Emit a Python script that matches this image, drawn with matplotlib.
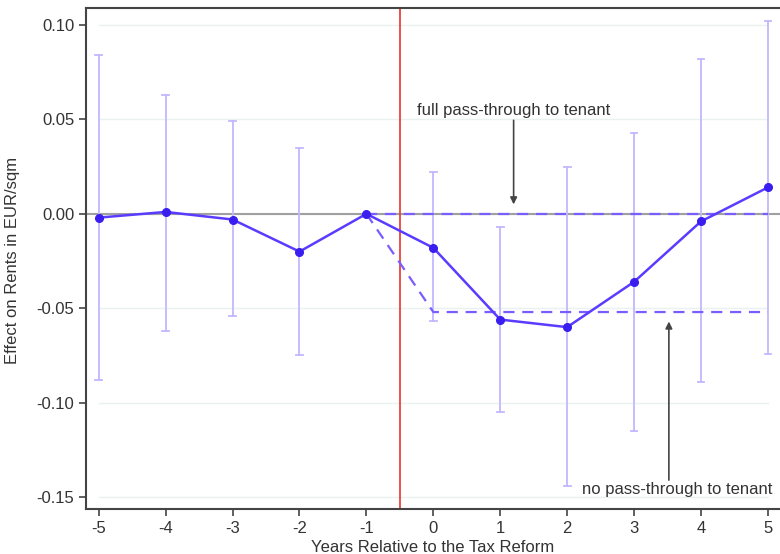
import matplotlib
matplotlib.use("Agg")
import matplotlib.pyplot as plt

years = [-5, -4, -3, -2, -1, 0, 1, 2, 3, 4, 5]
effect = [-0.002, 0.001, -0.003, -0.020, 0.000, -0.018, -0.056, -0.060, -0.036, -0.004, 0.014]
ci_low = [-0.088, -0.062, -0.054, -0.075, None, -0.057, -0.105, -0.144, -0.115, -0.089, -0.074]
ci_high = [0.084, 0.063, 0.049, 0.035, None, 0.022, -0.007, 0.025, 0.043, 0.082, 0.102]
full_pass = 0.0
no_pass = -0.052
yticks = [-0.15, -0.10, -0.05, 0.00, 0.05, 0.10]
ytick_labels = ["-0.15", "-0.10", "-0.05", "0.00", "0.05", "0.10"]

plt.rcParams['font.family'] = ['Liberation Sans', 'DejaVu Sans']
FS = 12

fig = plt.figure(figsize=(7.8, 5.54), dpi=100)
ax = fig.add_axes([86/780, 1-509/554, 702/780, 501/554])

# gridlines spanning data range only
for yt in yticks:
    ax.plot([years[0], years[-1]], [yt, yt], color='#e8f3f1', lw=1.0, zorder=0)

ax.axhline(0, color='#a0a0a0', lw=1.5, zorder=1)
ax.axvline(-0.5, color='#e8453c', lw=1.3, zorder=2)

# confidence intervals
for x, lo, hi in zip(years, ci_low, ci_high):
    if lo is None:
        continue
    ax.plot([x, x], [lo, hi], color='#c2b8ff', lw=1.3, zorder=2)
    ax.plot([x - 0.05, x + 0.05], [lo, lo], color='#c2b8ff', lw=1.3, zorder=2)
    ax.plot([x - 0.05, x + 0.05], [hi, hi], color='#c2b8ff', lw=1.3, zorder=2)

# counterfactual dashed lines
ax.plot([-1, years[-1]], [full_pass, full_pass], color='#7a5cff', lw=1.6,
        dashes=(5, 3.5), zorder=3)
ax.plot([-1, 0, years[-1]], [0, no_pass, no_pass], color='#7a5cff', lw=1.6,
        dashes=(5, 3.5), zorder=3)

ax.plot(years, effect, color='#5a3cff', lw=1.8, marker='o', ms=5.5,
        markerfacecolor='#3a1ef0', markeredgecolor='#3a1ef0', zorder=4)

ax.annotate('full pass-through to tenant', xy=(1.2, 0.005), xytext=(1.2, 0.051),
            ha='center', va='bottom', fontsize=FS, color='#333333',
            arrowprops=dict(arrowstyle='-|>', color='#444444', lw=1.2,
                            mutation_scale=10, shrinkA=0, shrinkB=0))
ax.annotate('', xy=(3.52, -0.057), xytext=(3.52, -0.141),
            arrowprops=dict(arrowstyle='-|>', color='#444444', lw=1.2,
                            mutation_scale=10, shrinkA=0, shrinkB=0))
ax.text(5.06, -0.146, 'no pass-through to tenant', ha='right', va='center',
        fontsize=FS, color='#333333')

ax.set_xlim(-5.19, 5.3)
ax.set_ylim(-0.1563, 0.109)
ax.set_xticks(years)
ax.set_xticklabels([str(y) for y in years])
ax.set_yticks(yticks)
ax.set_yticklabels(ytick_labels)
ax.tick_params(axis='both', direction='out', length=5, width=1.2, color='#444444',
               labelsize=FS, labelcolor='#333333')

ax.spines['right'].set_visible(False)
for s in ['left', 'bottom', 'top']:
    ax.spines[s].set_color('#444444')
    ax.spines[s].set_linewidth(1.5)

fig.text(433/780, 1-547/554, 'Years Relative to the Tax Reform', ha='center', va='center',
         fontsize=FS, color='#333333')
fig.text(13/780, 1-260/554, 'Effect on Rents in EUR/sqm', ha='center', va='center',
         rotation=90, fontsize=FS, color='#333333')

fig.savefig('out.png', dpi=100)
